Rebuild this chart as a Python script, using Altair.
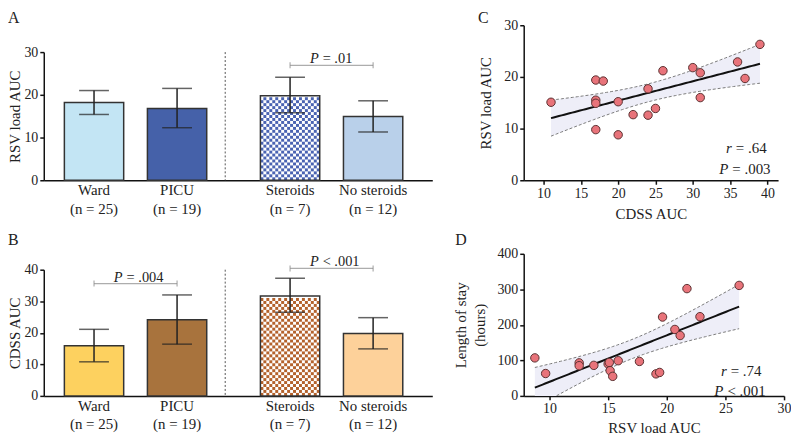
import numpy as np
import pandas as pd
import altair as alt

FONT = "Liberation Serif"
INK = "#222222"

# ---------------- Panels A and B (bar charts) ----------------
groups = ["Admission", "Treatment"]
categories = ["Ward", "PICU", "Steroids", "No steroids"]
category_group = ["Admission", "Admission", "Treatment", "Treatment"]
category_slot = [0, 1, 0, 1]
n_labels = ["(n = 25)", "(n = 19)", "(n = 7)", "(n = 12)"]

rsv_mean = [18.2, 16.8, 19.8, 14.9]
rsv_low = [15.4, 12.3, 15.8, 11.3]
rsv_high = [21.0, 21.5, 24.1, 18.6]

cdss_mean = [15.9, 24.1, 31.7, 19.8]
cdss_low = [10.8, 16.4, 26.5, 14.9]
cdss_high = [21.1, 32.0, 37.3, 24.8]

colors_a = ["#c3e5f4", "#4561a9", "#ffffff", "#b9d0ea"]
colors_b = ["#fdd15f", "#a8733d", "#ffffff", "#fdd19a"]
checker_a = "#4a63b2"
checker_b = "#b4622c"
patterned = "Steroids"

bracket_a_group = ["Treatment"]
bracket_a_y = [26.9]
bracket_a_text = ["= .01"]
bracket_b_group = ["Admission", "Treatment"]
bracket_b_y = [35.6, 40.4]
bracket_b_text = ["= .004", "< .001"]

# ---------------- Panel C ----------------
c_cdss = [11, 17, 18, 17, 17, 17, 20, 20, 22, 24, 24, 25, 26, 30, 31, 31, 36, 37, 39]
c_rsv = [15.1, 19.4, 19.2, 15.5, 14.9, 9.8, 15.2, 8.8, 12.7, 12.6, 17.7, 13.9,
         21.2, 21.8, 20.8, 16.0, 22.9, 19.7, 26.3]

# ---------------- Panel D ----------------
d_rsv = [8.75, 9.67, 12.53, 12.53, 13.78, 15.0, 15.1, 15.17, 15.39, 15.86, 17.67,
         19.08, 19.39, 19.64, 20.69, 21.14, 21.72, 22.83, 26.17]
d_los = [107, 63, 93, 85, 86, 90, 94, 71, 55, 99, 97, 62, 66, 222, 187, 170, 302, 223, 311]

T975_DF17 = 2.1098  # two-sided 95% t quantile, 17 degrees of freedom (n = 19)

# ---------------- layout / style constants ----------------
W_AB = 391
PI_G, PO_G, AL_G = 0.1528, 0.0673, 0.331
PI_S, PO_S = 24 / 84, 12 / 84
step_g = W_AB / (2 - PI_G + 2 * PO_G)
bw_g = step_g * (1 - PI_G)
step_s = bw_g / (2 - PI_S + 2 * PO_S)
bar_w = step_s * (1 - PI_S)
bar0 = PO_S * step_s
g1_start = (W_AB - step_g * (2 - PI_G)) * AL_G
divider_x = g1_start + bar0 + step_s + bar_w + 18.6
N_CELLS = 20
cell = bar_w / N_CELLS

one = pd.DataFrame({"k": [0]})


def y_axis(values, title, tpad, lh=None):
    kw = dict(values=values, title=title, grid=False, domainColor="#111", domainWidth=1.5,
              tickColor="#111", tickWidth=1.5, tickSize=4, labelFontSize=14, labelPadding=2,
              labelColor=INK, labelFont=FONT, titleFont=FONT, titleFontSize=15,
              titleFontWeight="normal", titleColor=INK, titlePadding=tpad)
    if lh:
        kw["titleLineHeight"] = lh
    return alt.Axis(**kw)


def x_axis(values, title, tpad):
    return alt.Axis(values=values, title=title, grid=False, domainColor="#111", domainWidth=1.5,
                    tickColor="#111", tickWidth=1.5, tickSize=4, labelFontSize=14, labelPadding=2,
                    labelColor=INK, labelFont=FONT, titleFont=FONT, titleFontSize=15,
                    titleFontWeight="normal", titleColor=INK, titlePadding=tpad, labelFlush=False)


def letter_layer(letter, lx, ly):
    return alt.Chart(one).mark_text(text=letter, align="left", baseline="top", fontSize=16,
                                    font=FONT, color=INK).encode(x=alt.value(lx), y=alt.value(ly))


def bar_panel(means, lows, highs, colors, checker, b_group, b_y, b_text, ymax, H, ytitle,
              letter, letter_y):
    df = pd.DataFrame({
        "group": category_group, "slot": category_slot, "cat": categories,
        "label": [c + "\n" + n for c, n in zip(categories, n_labels)],
        "mean": means, "low": lows, "high": highs, "fillcol": colors})
    xs = alt.Scale(type="band", domain=groups, paddingInner=PI_G, paddingOuter=PO_G, align=AL_G)
    offs = alt.Scale(type="band", domain=[0, 1], paddingInner=PI_S, paddingOuter=PO_S)
    ys = alt.Scale(domain=[0, ymax], nice=False, zero=True)
    yax = y_axis(list(range(0, ymax + 1, 10)), ytitle, 1)
    xax = alt.Axis(labels=False, ticks=False, title=None, grid=False,
                   domainColor="#111", domainWidth=1.5)
    X = alt.X("group:N", scale=xs, axis=xax)
    XO = alt.XOffset("slot:N", scale=offs)

    def Y(f):
        return alt.Y(f, scale=ys, axis=yax)

    k = categories.index(patterned)
    pitch = cell * ymax / H
    nrows = int(means[k] / pitch)
    cells = pd.DataFrame([{"group": category_group[k], "col": c, "yc": (r + 0.5) * pitch}
                          for r in range(nrows) for c in range(N_CELLS) if (r + c) % 2 == 0])

    base = alt.Chart(df)
    fill = base.mark_bar(strokeWidth=0).encode(
        x=X, xOffset=XO, y=Y("mean:Q"),
        color=alt.Color("fillcol:N", scale=None, legend=None))
    chk = alt.Chart(cells).mark_square(size=cell * cell, opacity=1, strokeWidth=0,
                                       color=checker).encode(
        x=X,
        xOffset=alt.XOffset("col:Q", scale=alt.Scale(
            domain=[0, N_CELLS - 1], range=[bar0 + cell / 2, bar0 + bar_w - cell / 2])),
        y=Y("yc:Q"))
    outline = base.mark_bar(fillOpacity=0, stroke="#333", strokeWidth=1.5).encode(
        x=X, xOffset=XO, y=Y("mean:Q"))
    err = base.mark_rule(color=INK, strokeWidth=1.5).encode(
        x=X, xOffset=XO, y=Y("low:Q"), y2="high:Q")
    cap_lo = base.mark_tick(orient="horizontal", size=30, thickness=1.5, color=INK).encode(
        x=X, xOffset=XO, y=Y("low:Q"))
    cap_hi = base.mark_tick(orient="horizontal", size=30, thickness=1.5, color=INK).encode(
        x=X, xOffset=XO, y=Y("high:Q"))

    br = pd.DataFrame({"group": b_group, "y": b_y, "txt": b_text})
    br_caps_df = pd.DataFrame([{"group": g, "slot": s, "y": y}
                               for g, y in zip(b_group, b_y) for s in (0, 1)])
    br_line = alt.Chart(br).mark_tick(orient="horizontal", size=step_s, thickness=1.2,
                                      color="#8a8a8a").encode(x=X, y=Y("y:Q"))
    br_caps = alt.Chart(br_caps_df).mark_tick(orient="vertical", size=6, thickness=1.2,
                                              color="#8a8a8a").encode(x=X, xOffset=XO, y=Y("y:Q"))
    p_it = alt.Chart(br).mark_text(text="P", fontStyle="italic", align="right", dx=-13, dy=-6,
                                   fontSize=14.5, font=FONT, color=INK).encode(x=X, y=Y("y:Q"))
    p_rest = alt.Chart(br).mark_text(align="left", dx=-9, dy=-6, fontSize=14.5, font=FONT,
                                     color=INK).encode(x=X, y=Y("y:Q"), text="txt:N")

    labels = base.mark_text(lineBreak="\n", lineHeight=18.5, baseline="alphabetic", fontSize=15,
                            font=FONT, color=INK).encode(
        x=X, xOffset=XO, y=alt.value(H + 15), text="label:N")
    div = alt.Chart(one).mark_rule(strokeDash=[2, 2], color="#555", strokeWidth=1).encode(
        x=alt.value(divider_x), y=alt.value(0), y2=alt.value(H))

    return alt.layer(fill, chk, outline, err, cap_lo, cap_hi, br_line, br_caps, p_it, p_rest,
                     labels, div, letter_layer(letter, -36, letter_y)).resolve_scale(
        xOffset="independent").properties(width=W_AB, height=H)


def scatter_panel(xs_, ys_, xdom, xvals, ydom, yvals, W, H, xtitle, ytitle, ytp, xtp, ylh,
                  letter, lx, ly, r_txt, p_txt, r_pos, p_pos):
    x = np.array(xs_, dtype=float)
    y = np.array(ys_, dtype=float)
    n = len(x)
    b1, b0 = np.polyfit(x, y, 1)
    resid = y - (b0 + b1 * x)
    s = np.sqrt((resid ** 2).sum() / (n - 2))
    sxx = ((x - x.mean()) ** 2).sum()
    grid = np.linspace(x.min(), x.max(), 80)
    fit = b0 + b1 * grid
    se = s * np.sqrt(1 / n + (grid - x.mean()) ** 2 / sxx)
    band = pd.DataFrame({"x": grid, "fit": fit, "lo": fit - T975_DF17 * se,
                         "hi": fit + T975_DF17 * se})
    pts = pd.DataFrame({"x": x, "y": y})

    xsc = alt.Scale(domain=xdom, nice=False, zero=False)
    ysc = alt.Scale(domain=ydom, nice=False, zero=False)
    X = alt.X("x:Q", scale=xsc, axis=x_axis(xvals, xtitle, xtp))
    yax = y_axis(yvals, ytitle, ytp, ylh)

    def Y(f):
        return alt.Y(f, scale=ysc, axis=yax)

    bb = alt.Chart(band)
    area = bb.mark_area(color="#eeeef8", opacity=1, clip=True).encode(x=X, y=Y("lo:Q"), y2="hi:Q")
    lo = bb.mark_line(color="#7a7a7a", strokeWidth=1, strokeDash=[3, 2], clip=True).encode(
        x=X, y=Y("lo:Q"))
    hi = bb.mark_line(color="#7a7a7a", strokeWidth=1, strokeDash=[3, 2], clip=True).encode(
        x=X, y=Y("hi:Q"))
    reg = bb.mark_line(color="#111", strokeWidth=2, clip=True).encode(x=X, y=Y("fit:Q"))
    dots = alt.Chart(pts).mark_circle(size=72, color="#e8737a", opacity=1, stroke="#5b3030",
                                      strokeWidth=1).encode(x=X, y=Y("y:Q"))

    def ann(sym, rest, pos):
        ax, ay = pos
        a = alt.Chart(one).mark_text(text=sym, fontStyle="italic", align="right", fontSize=15,
                                     font=FONT, color=INK).encode(x=alt.value(ax), y=alt.value(ay))
        b = alt.Chart(one).mark_text(text=rest, align="left", fontSize=15, font=FONT,
                                     color=INK).encode(x=alt.value(ax + 4), y=alt.value(ay))
        return [a, b]

    layers = [area, lo, hi, reg, dots] + ann("r", r_txt, r_pos) + ann("P", p_txt, p_pos)
    layers.append(letter_layer(letter, lx, ly))
    return alt.layer(*layers).properties(width=W, height=H)


A = bar_panel(rsv_mean, rsv_low, rsv_high, colors_a, checker_a, bracket_a_group, bracket_a_y,
              bracket_a_text, 30, 129, "RSV load AUC", "A", -42)
B = bar_panel(cdss_mean, cdss_low, cdss_high, colors_b, checker_b, bracket_b_group, bracket_b_y,
              bracket_b_text, 40, 127, "CDSS AUC", "B", -38)

C = scatter_panel(c_cdss, c_rsv, [7.34, 41.43], [10, 15, 20, 25, 30, 35, 40], [0, 30],
                  [0, 10, 20, 30], 256, 156, "CDSS AUC", "RSV load AUC", 10.5, 6.5, None,
                  "C", -46, -15.3, "= .64", "= .003", (209.5, 123.7), (206, 144.7))
D = scatter_panel(d_rsv, d_los, [7.8, 30], [10, 15, 20, 25, 30], [0, 400],
                  [0, 100, 200, 300, 400], 262, 143, "RSV load AUC",
                  ["Length of stay", "(hours)"], 9.5, 5, 19,
                  "D", -69, -22.3, "= .74", "< .001", (204.3, 117.7), (201, 138.3))

spacer = alt.Chart(one).mark_point(size=0, opacity=0).encode(
    x=alt.X("k:Q", axis=None), y=alt.Y("k:Q", axis=None)).properties(width=W_AB, height=27)

left = alt.vconcat(spacer, alt.vconcat(A, B, spacing=90, bounds="flush"), spacing=0,
                   bounds="flush")
right = alt.vconcat(C, D, spacing=74, bounds="flush")

chart = alt.hconcat(left, right, spacing=21).properties(
    padding=0).configure_view(stroke=None).configure_text(font=FONT)

chart.save("out.html", embed_options={"renderer": "svg", "actions": False})
